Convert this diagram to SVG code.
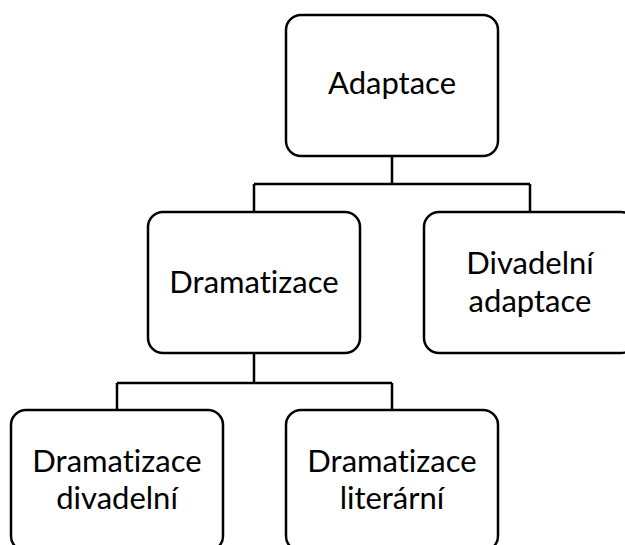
<svg xmlns="http://www.w3.org/2000/svg" width="625" height="545" viewBox="0 0 625 545">
<style>
.box{fill:#fff;stroke:#000;stroke-width:2.5}
.lbl{font-family:Lato,"Liberation Sans",sans-serif;font-size:31px;fill:#000;text-anchor:middle;font-variant-ligatures:none;font-feature-settings:"liga" 0}
.conn{fill:none;stroke:#000;stroke-width:2.5}
</style>
<rect width="625" height="545" fill="#fff"/>
<g id="connectors">
<path class="conn" d="M392 156V184M254 184H530M254 184V212M530 184V212"/>
<path class="conn" d="M254 353V383M117 383H392M117 383V410M392 383V410"/>
</g>
<g id="adaptace">
<rect class="box" x="286" y="15" width="212" height="141" rx="15"/>
<text class="lbl" x="392" y="94">Adaptace</text>
</g>
<g id="dramatizace">
<rect class="box" x="148" y="212" width="212" height="141" rx="15"/>
<text class="lbl" x="254" y="293">Dramatizace</text>
</g>
<g id="divadelni-adaptace">
<rect class="box" x="424" y="212" width="212" height="141" rx="15"/>
<text class="lbl" x="530" y="274">Divadelní</text>
<text class="lbl" x="530" y="312">adaptace</text>
</g>
<g id="dramatizace-divadelni">
<rect class="box" x="11" y="410" width="212" height="141" rx="15"/>
<text class="lbl" x="117" y="472">Dramatizace</text>
<text class="lbl" x="117" y="509">divadelní</text>
</g>
<g id="dramatizace-literarni">
<rect class="box" x="286" y="410" width="212" height="141" rx="15"/>
<text class="lbl" x="392" y="472">Dramatizace</text>
<text class="lbl" x="392" y="509">literární</text>
</g>
</svg>
